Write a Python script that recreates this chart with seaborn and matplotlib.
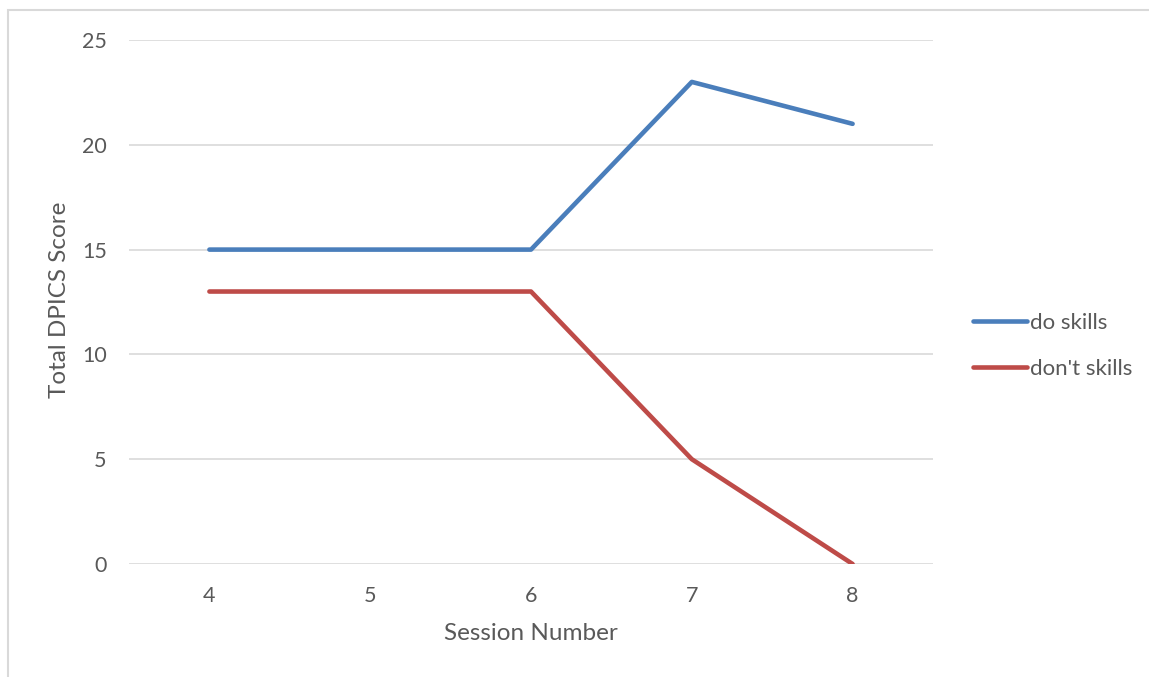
import pandas as pd
import seaborn as sns
import matplotlib.pyplot as plt
from matplotlib.patches import Rectangle

# Chart data
sessions = [4, 5, 6, 7, 8]
do_skills = [15, 15, 15, 23, 21]
dont_skills = [13, 13, 13, 5, 0]
series_names = ["do skills", "don't skills"]

df = pd.DataFrame({
    "session": sessions * 2,
    "score": do_skills + dont_skills,
    "series": [series_names[0]] * len(sessions) + [series_names[1]] * len(sessions),
})

sns.set_style("white")
plt.rcParams['font.family'] = ['Lato', 'DejaVu Sans']

text_gray = "#595959"
grid_gray = "#D9D9D9"
colors = ["#4A7EBB", "#BE4B48"]

fig = plt.figure(figsize=(11.49, 6.77), dpi=100)
ax = fig.add_axes([129 / 1149, 1 - 564 / 677, 804 / 1149, 524 / 677])

# Outer chart border (only left/top visible in the crop)
fig.patches.append(Rectangle((8 / 1149, -0.5), 2, 0.5 + 1 - 10 / 677,
                             transform=fig.transFigure, fill=False,
                             edgecolor=grid_gray, linewidth=1.5, zorder=0))

sns.lineplot(data=df, x="session", y="score", hue="series",
             palette=colors, linewidth=3.3,
             ax=ax, legend=False, solid_capstyle="round", solid_joinstyle="round")

ax.set_xlim(3.5, 8.5)
ax.set_ylim(0, 25)
ax.set_xticks(sessions)
ax.set_yticks([0, 5, 10, 15, 20, 25])
ax.yaxis.grid(True, color=grid_gray, linewidth=1.2)
ax.set_axisbelow(True)
for s in ax.spines.values():
    s.set_visible(False)
ax.tick_params(axis="both", length=0, labelsize=15.5, labelcolor=text_gray, pad=16)

ax.set_xlabel("")
ax.set_ylabel("")
fig.text(531 / 1149, 1 - 633 / 677, "Session Number", fontsize=17.5,
         color=text_gray, ha="center", va="center")
fig.text(60 / 1149, 1 - 300 / 677, "Total DPICS Score", fontsize=17.5,
         color=text_gray, ha="center", va="center", rotation=90)

handles = [plt.Line2D([], [], color=c, linewidth=3.3, solid_capstyle="round")
           for c in colors]
fig.legend(handles, series_names, loc="center left",
           bbox_to_anchor=(964 / 1149, 1 - 346 / 677), frameon=False,
           fontsize=16, labelcolor=text_gray, handlelength=2.45,
           handletextpad=0.12, labelspacing=1.15, borderaxespad=0)

plt.savefig("out.png", dpi=100)
